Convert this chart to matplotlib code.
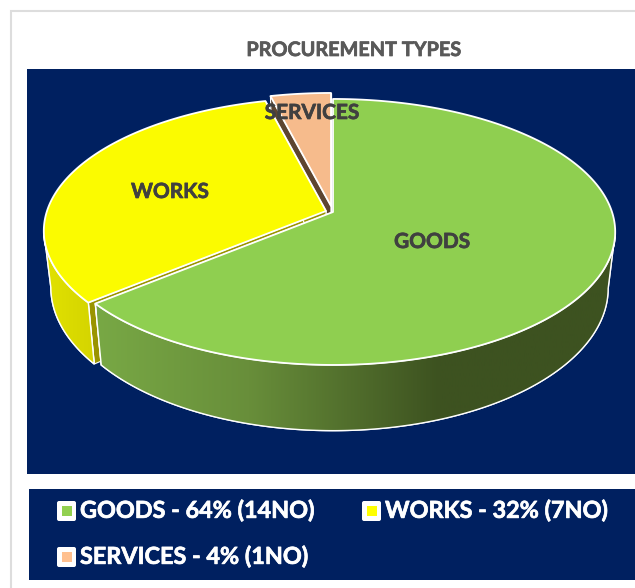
import numpy as np
import matplotlib
matplotlib.use('Agg')
import matplotlib.pyplot as plt
import matplotlib.patheffects as pe
from matplotlib.colors import LinearSegmentedColormap
from matplotlib.patches import Polygon, Rectangle, FancyBboxPatch

title = 'PROCUREMENT TYPES'
names = ['GOODS', 'WORKS', 'SERVICES']
percents = [64, 32, 4]
counts = [14, 7, 1]
top_colors = ['#8FCF50', '#FBFB00', '#F6BB8C']
legend_colors = ['#92D050', '#FFFF00', '#FFC08F']
cut_colors = ['#55702E', '#9A9400', '#5D4530']

# apex of each exploded slice, in pixels
apex = [(333, 212), (326, 211), (331, 206)]
label_pos = [(432, 242), (170, 192), (312, 113)]
legend_pos = [(57, 511), (362, 511), (57, 557)]

R, S, K = 279, 130, 0.15


def top_face(cx, cy, deg):
    a = np.radians(deg)
    u, v = np.sin(a), np.cos(a)
    w = 1 + K * v
    return cx + R * u / w, cy - S * v / w


def bottom_face(cx, cy, x, y):
    return cx + 0.975 * (x - cx), cy + 1.07 * (y - cy) + 55


def ramp(ax, patch, x0, x1, stops):
    cmap = LinearSegmentedColormap.from_list('wall', stops)
    im = ax.imshow(np.linspace(0, 1, 256)[None, :], cmap=cmap, aspect='auto',
                   extent=(x0, x1, 588, 0), zorder=patch.get_zorder())
    im.set_clip_path(patch)


def bold(color, width=0.5):
    return [pe.withStroke(linewidth=width, foreground=color)]


fig = plt.figure(figsize=(6.35, 5.88), dpi=100)
ax = fig.add_axes([0, 0, 1, 1])
ax.axis('off')

ax.add_patch(Rectangle((11, 11), 700, 700, fc='white', ec='#DDDDDD', lw=1.5))
ax.add_patch(Rectangle((27, 69), 620, 405, fc='#002060', ec='none'))
ax.add_patch(Rectangle((29, 489), 620, 91, fc='#002060', ec='none'))

starts = np.cumsum([0] + percents[:-1]) * 3.6
ends = np.cumsum(percents) * 3.6
wall_stops = {
    0: [(0, '#78A845'), (0.28, '#688E3A'), (0.63, '#3D5220'), (1, '#3D5220')],
    1: [(0, '#E2E200'), (1, '#D4D400')],
}

# back to front so the nearer slices cover the cut faces
for i in [2, 1, 0]:
    cx, cy = apex[i]
    deg = np.linspace(starts[i], ends[i], 400)
    x, y = top_face(cx, cy, deg)
    bx, by = bottom_face(cx, cy, x, y)
    ax_, ay_ = bottom_face(cx, cy, cx, cy)
    z = (2 - i) * 3

    # both cut faces
    cut1 = [(cx, cy), (x[0], y[0]), (bx[0], by[0]), (ax_, ay_)]
    cut2 = [(cx, cy), (x[-1], y[-1]), (bx[-1], by[-1]), (ax_, ay_)]
    ax.add_patch(Polygon(cut1, fc=cut_colors[i], ec='white', lw=0.8, zorder=2 + z))
    ax.add_patch(Polygon(cut2, fc=cut_colors[i], ec='white', lw=0.8, zorder=2 + z))

    # outer wall, only the part facing the viewer, closed by the silhouette line
    if i == 0:
        t, b = np.argmax(x), np.argmax(bx)
        wall = np.r_[np.c_[x, y][t:], np.c_[bx, by][b:][::-1]]
        edge = Polygon(wall, fc='none', ec='white', lw=1.0, zorder=3 + z)
        ax.add_patch(edge)
        ramp(ax, edge, 97, 640, wall_stops[0])
    elif i == 1:
        t, b = np.argmin(x), np.argmin(bx)
        wall = np.r_[np.c_[x, y][:t + 1], np.c_[bx, by][:b + 1][::-1]]
        edge = Polygon(wall, fc='none', ec='white', lw=1.0, zorder=3 + z)
        ax.add_patch(edge)
        ramp(ax, edge, 44, 95, wall_stops[1])
    if i < 2:
        ax.add_patch(Polygon(wall, fc='none', ec='white', lw=1.0, zorder=3 + z))

    # top face
    face = np.r_[[(cx, cy)], np.c_[x, y]]
    ax.add_patch(Polygon(face, fc=top_colors[i], ec='white', lw=1.3, joinstyle='round',
                         zorder=4 + z))

for name, (tx, ty) in zip(names, label_pos):
    ax.text(tx, ty, name, color='#404040', fontsize=15, fontweight='bold', family='Lato',
            ha='center', va='center', zorder=20, path_effects=bold('#404040'))

ax.text(354, 50, title, color='#595959', fontsize=14.3, fontweight='bold', family='Lato',
        ha='center', va='center', path_effects=bold('#595959'))

for name, pct, n, col, (lx, ly) in zip(names, percents, counts, legend_colors, legend_pos):
    ax.add_patch(FancyBboxPatch((lx + 2, ly - 8), 15, 16, boxstyle='round,pad=2',
                                fc='white', ec='none', zorder=5))
    ax.add_patch(Rectangle((lx + 5, ly - 5), 10, 10, fc=col, ec='none', zorder=6))
    ax.text(lx + 23, ly, f'{name} - {pct}% ({n}NO)', color='white', fontsize=16.85,
            fontweight='bold', family='Lato', ha='left', va='center', zorder=6,
            path_effects=bold('white'))

ax.set_xlim(0, 635)
ax.set_ylim(588, 0)
fig.savefig('out.png', dpi=100, facecolor='white')
